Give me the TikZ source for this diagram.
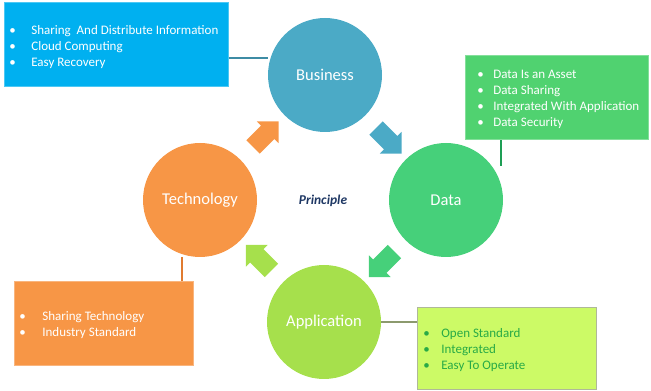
\documentclass[tikz,border=0pt]{standalone}
\usepackage{fontspec}
\setmainfont{Carlito}
\usetikzlibrary{shapes.arrows,calc}

\definecolor{busblue}{RGB}{75,170,198}
\definecolor{boxblue}{RGB}{0,176,240}
\definecolor{linkblue}{RGB}{62,140,165}
\definecolor{datgreen}{RGB}{70,208,122}
\definecolor{boxgreen}{RGB}{80,210,112}
\definecolor{linkgreen}{RGB}{30,158,85}
\definecolor{applime}{RGB}{166,224,76}
\definecolor{boxlime}{RGB}{204,250,102}
\definecolor{textlime}{RGB}{40,170,70}
\definecolor{linklime}{RGB}{140,154,110}
\definecolor{tecorange}{RGB}{247,150,70}
\definecolor{linkorange}{RGB}{224,123,48}
\definecolor{navy}{RGB}{31,56,100}

\tikzset{every picture/.style={line width=0.75pt}}
\tikzset{
  pillar/.style={circle,minimum size=114pt,inner sep=0pt,text=white,font=\fontsize{16.5}{20}\selectfont},
  infobox/.style={rectangle,inner sep=0pt,line width=1pt},
  infotext/.style={anchor=base west,inner sep=0pt,font=\fontsize{13}{16}\selectfont},
  flow/.style={single arrow,minimum height=36pt,single arrow head extend=6pt,inner sep=0pt},
  link/.style={line width=2.5pt}
}
\newcommand{\flowbody}{\rule{0pt}{18pt}}

\begin{document}
\begin{tikzpicture}[x=1pt,y=1pt]
    \useasboundingbox (0,0) rectangle (651,391);
    % the four circles
    \node[pillar,fill=busblue] (bus) at (325,316) {Business};
    \node[pillar,fill=datgreen] (dat) at (446,191) {Data};
    \node[pillar,fill=applime] (app) at (324,69) {Application};
    \node[pillar,fill=tecorange] (tec) at (200,191) {Technology};
    \node[font=\bfseries\itshape\fontsize{13.5}{16}\selectfont,text=navy] (prin) at (323,190) {Principle};
    % block arrows between them
    \node[flow,fill=tecorange,rotate=45] (tb) at ($(tec)!0.5!(bus)$) {\flowbody};
    \node[flow,fill=busblue,rotate=-45] (bd) at ($(bus)!0.5!(dat)$) {\flowbody};
    \node[flow,fill=datgreen,rotate=-135] (da) at ($(dat)!0.5!(app)$) {\flowbody};
    \node[flow,fill=applime,rotate=135] (at) at ($(app)!0.5!(tec)$) {\flowbody};
    % boxes
    \node[infobox,fill=boxblue,draw=boxblue!70!white,minimum width=224pt,minimum height=84pt] (bbox) at (116,346) {};
    \node[infobox,fill=boxgreen,draw=boxgreen!70!white,minimum width=183pt,minimum height=84pt] (gbox) at (556.5,293) {};
    \node[infobox,fill=tecorange,draw=tecorange!70!white,minimum width=179pt,minimum height=84pt] (obox) at (103.5,67) {};
    \node[infobox,fill=boxlime,draw=linklime!70!white,minimum width=179pt,minimum height=82pt] (lbox) at (506.5,42) {};
    \node[infotext,text=white] (btxt) at (9,356.5) {\begin{tabular}[t]{@{}l@{\hspace{15.5pt}}l@{}}
        \textbullet & Sharing\ \ And Distribute Information\\
        \textbullet & Cloud Computing\\
        \textbullet & Easy Recovery
      \end{tabular}};
    \node[infotext,text=white] (gtxt) at (477,312.5) {\begin{tabular}[t]{@{}l@{\hspace{9.5pt}}l@{}}
        \textbullet & Data Is an Asset\\
        \textbullet & Data Sharing\\
        \textbullet & Integrated With Application\\
        \textbullet & Data Security
      \end{tabular}};
    \node[infotext,text=white] (otxt) at (19,70.5) {\begin{tabular}[t]{@{}l@{\hspace{16.5pt}}l@{}}
        \textbullet & Sharing Technology\\
        \textbullet & Industry Standard
      \end{tabular}};
    \node[infotext,text=textlime] (ltxt) at (423,53.5) {\begin{tabular}[t]{@{}l@{\hspace{11.5pt}}l@{}}
        \textbullet & Open Standard\\
        \textbullet & Integrated\\
        \textbullet & Easy To Operate
      \end{tabular}};
    % connectors
    \coordinate (gend) at (501,225);
    \draw[link,linkblue] (bbox.east |- 0,333) -- (bus.west |- 0,333);
    \draw[link,linkgreen] (gbox.south -| gend) -- (gend);
    \draw[link,linkorange] (obox.north -| 182,0) -- (tec.south -| 182,0);
    \draw[link,linklime] (app.east) -- (lbox.west |- app.east);
\end{tikzpicture}
\end{document}
